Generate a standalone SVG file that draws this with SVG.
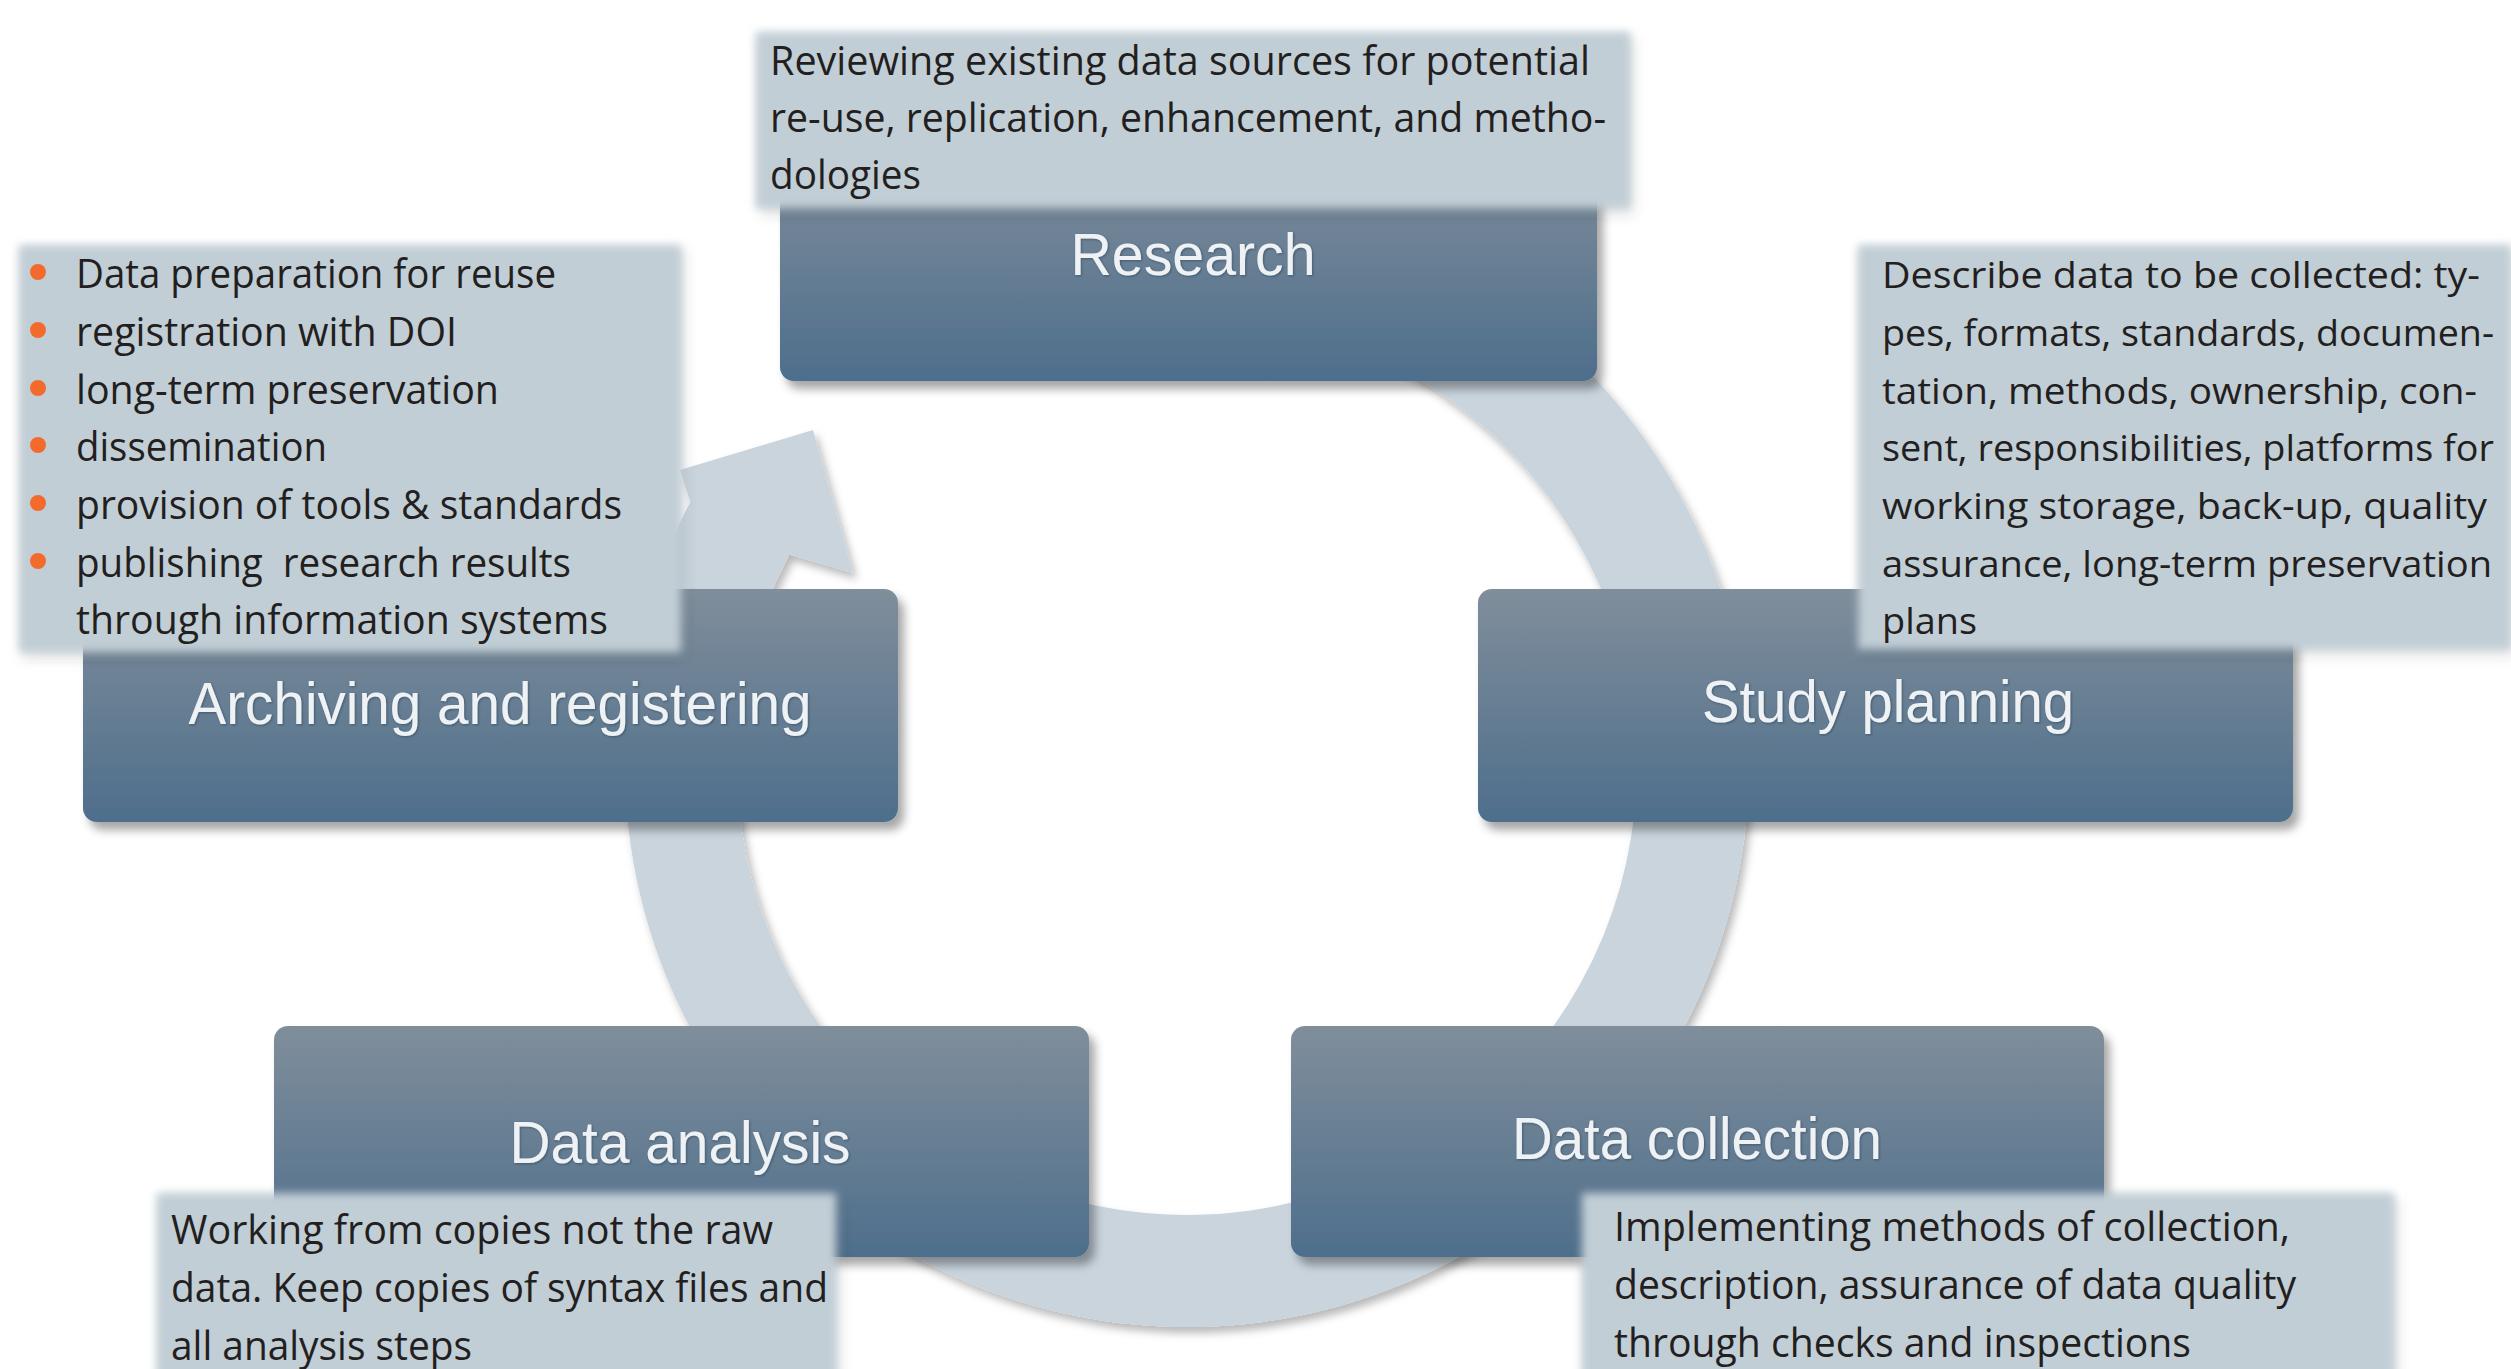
<svg xmlns="http://www.w3.org/2000/svg" width="2511" height="1369" viewBox="0 0 2511 1369">
<defs>
  <linearGradient id="boxGrad" x1="0" y1="0" x2="0" y2="1">
    <stop offset="0" stop-color="#808e9b"/>
    <stop offset="1" stop-color="#4e6e8c"/>
  </linearGradient>
  <filter id="boxShadow" x="-5%" y="-5%" width="112%" height="120%">
    <feDropShadow dx="6" dy="8" stdDeviation="5" flood-color="#000" flood-opacity="0.35"/>
  </filter>
  <filter id="ringShadow" x="-5%" y="-5%" width="112%" height="112%">
    <feDropShadow dx="4" dy="6" stdDeviation="4" flood-color="#000" flood-opacity="0.28"/>
  </filter>
  <filter id="soft" x="-5%" y="-8%" width="112%" height="120%">
    <feGaussianBlur in="SourceGraphic" stdDeviation="4" result="b"/>
    <feDropShadow in="b" dx="3" dy="5" stdDeviation="5" flood-color="#000" flood-opacity="0.22"/>
  </filter>
  <filter id="lblShadow" x="-5%" y="-20%" width="110%" height="140%">
    <feDropShadow dx="1" dy="1" stdDeviation="1" flood-color="#1d2f40" flood-opacity="0.45"/>
  </filter>
</defs>
<style>
  .box { fill: url(#boxGrad); filter: url(#boxShadow); }
  .label { font-family: "Liberation Sans", Arial, sans-serif; font-size: 59px; fill: #eef2f5; text-anchor: middle; filter: url(#lblShadow); }
  .call { fill: #c1ced6; filter: url(#soft); }
  .txt { font-family: "Open Sans", "Noto Sans", sans-serif; font-size: 40px; font-weight: 400; fill: #231f20; }
  .txt.sm { font-size: 37px; }
  .bullet { fill: #f36b2c; }
  .ring { fill: #c9d4dd; filter: url(#ringShadow); }
</style>
<rect width="2511" height="1369" fill="#ffffff"/>

<g id="connectors">
  <path class="ring" d="M 994.8 236.9 A 562 562 0 1 1 690.3 502.0 L 680 470 L 813 430 L 853 573 L 789.3 554.4 A 450 450 0 1 0 1033.1 342.1 Z"/>
</g>

<g id="node-research">
  <rect class="box" x="780" y="149" width="817" height="232" rx="14"/>
  <text class="label" x="1193" y="275" textLength="245" lengthAdjust="spacingAndGlyphs">Research</text>
</g>
<g id="node-archiving">
  <rect class="box" x="83" y="589" width="815" height="233" rx="14"/>
  <text class="label" x="500" y="724" textLength="623" lengthAdjust="spacingAndGlyphs">Archiving and registering</text>
</g>
<g id="node-study">
  <rect class="box" x="1478" y="589" width="815" height="233" rx="14"/>
  <text class="label" x="1888" y="722" textLength="372" lengthAdjust="spacingAndGlyphs">Study planning</text>
</g>
<g id="node-analysis">
  <rect class="box" x="274" y="1026" width="815" height="231" rx="14"/>
  <text class="label" x="680" y="1163" textLength="341" lengthAdjust="spacingAndGlyphs">Data analysis</text>
</g>
<g id="node-collection">
  <rect class="box" x="1291" y="1026" width="813" height="231" rx="14"/>
  <text class="label" x="1697" y="1159" textLength="370" lengthAdjust="spacingAndGlyphs">Data collection</text>
</g>

<g id="note-research">
  <rect class="call" x="756" y="32" width="874" height="176"/>
  <text class="txt" x="770" y="75" textLength="820" lengthAdjust="spacingAndGlyphs">Reviewing existing data sources for potential</text>
  <text class="txt" x="770" y="132" textLength="836" lengthAdjust="spacingAndGlyphs">re-use, replication, enhancement, and metho-</text>
  <text class="txt" x="770" y="189" textLength="151" lengthAdjust="spacingAndGlyphs">dologies</text>
</g>

<g id="note-archiving">
  <rect class="call" x="19" y="245" width="662" height="407"/>
  <circle class="bullet" cx="38" cy="272" r="8"/>
  <circle class="bullet" cx="38" cy="330" r="8"/>
  <circle class="bullet" cx="38" cy="388" r="8"/>
  <circle class="bullet" cx="38" cy="445" r="8"/>
  <circle class="bullet" cx="38" cy="503" r="8"/>
  <circle class="bullet" cx="38" cy="561" r="8"/>
  <text class="txt" x="76" y="288" textLength="480" lengthAdjust="spacingAndGlyphs">Data preparation for reuse</text>
  <text class="txt" x="76" y="346" textLength="381" lengthAdjust="spacingAndGlyphs">registration with DOI</text>
  <text class="txt" x="76" y="404" textLength="423" lengthAdjust="spacingAndGlyphs">long-term preservation</text>
  <text class="txt" x="76" y="461" textLength="251" lengthAdjust="spacingAndGlyphs">dissemination</text>
  <text class="txt" x="76" y="519" textLength="546" lengthAdjust="spacingAndGlyphs">provision of tools &amp; standards</text>
  <text class="txt" x="76" y="577" textLength="495" lengthAdjust="spacingAndGlyphs" xml:space="preserve">publishing  research results</text>
  <text class="txt" x="76" y="634" textLength="532" lengthAdjust="spacingAndGlyphs">through information systems</text>
</g>

<g id="note-study">
  <rect class="call" x="1858" y="245" width="653" height="404"/>
  <text class="txt sm" x="1882" y="288" textLength="598" lengthAdjust="spacingAndGlyphs">Describe data to be collected: ty-</text>
  <text class="txt sm" x="1882" y="346" textLength="612" lengthAdjust="spacingAndGlyphs">pes, formats, standards, documen-</text>
  <text class="txt sm" x="1882" y="404" textLength="595" lengthAdjust="spacingAndGlyphs">tation, methods, ownership, con-</text>
  <text class="txt sm" x="1882" y="461" textLength="612" lengthAdjust="spacingAndGlyphs">sent, responsibilities, platforms for</text>
  <text class="txt sm" x="1882" y="519" textLength="605" lengthAdjust="spacingAndGlyphs">working storage, back-up, quality</text>
  <text class="txt sm" x="1882" y="577" textLength="610" lengthAdjust="spacingAndGlyphs">assurance, long-term preservation</text>
  <text class="txt sm" x="1882" y="634" textLength="95" lengthAdjust="spacingAndGlyphs">plans</text>
</g>

<g id="note-analysis">
  <rect class="call" x="157" y="1193" width="679" height="190"/>
  <text class="txt" x="171" y="1244" textLength="602" lengthAdjust="spacingAndGlyphs">Working from copies not the raw</text>
  <text class="txt" x="171" y="1302" textLength="657" lengthAdjust="spacingAndGlyphs">data. Keep copies of syntax files and</text>
  <text class="txt" x="171" y="1360" textLength="301" lengthAdjust="spacingAndGlyphs">all analysis steps</text>
</g>

<g id="note-collection">
  <rect class="call" x="1582" y="1193" width="812" height="190"/>
  <text class="txt" x="1614" y="1241" textLength="676" lengthAdjust="spacingAndGlyphs">Implementing methods of collection,</text>
  <text class="txt" x="1614" y="1299" textLength="682" lengthAdjust="spacingAndGlyphs">description, assurance of data quality</text>
  <text class="txt" x="1614" y="1357" textLength="577" lengthAdjust="spacingAndGlyphs">through checks and inspections</text>
</g>
</svg>
